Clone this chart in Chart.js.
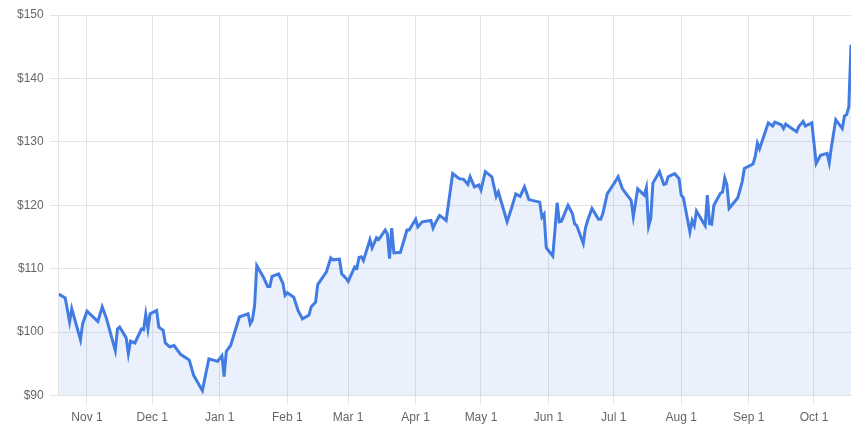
<!DOCTYPE html>
<html>
<head>
<meta charset="utf-8">
<script src="https://cdn.jsdelivr.net/npm/chart.js@4.4.1/dist/chart.umd.min.js"></script>
<style>
  html, body { margin: 0; padding: 0; background: #fff; }
  #wrap { width: 865px; height: 439px; position: relative; }
</style>
</head>
<body>
<div id="wrap"><canvas id="c"></canvas></div>
<script>
const dates = [
  "2022-10-19","2022-10-22","2022-10-24","2022-10-25","2022-10-29","2022-10-30",
  "2022-11-01","2022-11-06","2022-11-08","2022-11-10","2022-11-14","2022-11-15","2022-11-16",
  "2022-11-19","2022-11-20","2022-11-21","2022-11-23","2022-11-26","2022-11-27","2022-11-28",
  "2022-11-29","2022-11-30",
  "2022-12-03","2022-12-04","2022-12-06","2022-12-07","2022-12-09","2022-12-11","2022-12-14",
  "2022-12-18","2022-12-20","2022-12-24","2022-12-27","2022-12-31",
  "2023-01-02","2023-01-03","2023-01-04","2023-01-06","2023-01-10","2023-01-14","2023-01-15",
  "2023-01-16","2023-01-17","2023-01-18","2023-01-21","2023-01-23","2023-01-24","2023-01-25",
  "2023-01-28","2023-01-30","2023-01-31",
  "2023-02-01","2023-02-04","2023-02-06","2023-02-08","2023-02-11","2023-02-12","2023-02-14",
  "2023-02-15","2023-02-19","2023-02-21","2023-02-22","2023-02-25","2023-02-26","2023-02-28",
  "2023-03-01","2023-03-04","2023-03-05","2023-03-06","2023-03-07","2023-03-08","2023-03-11",
  "2023-03-12","2023-03-14","2023-03-15","2023-03-18","2023-03-19","2023-03-20","2023-03-21",
  "2023-03-22","2023-03-25","2023-03-28","2023-03-29",
  "2023-04-01","2023-04-02","2023-04-04","2023-04-08","2023-04-09","2023-04-10","2023-04-12",
  "2023-04-14","2023-04-15","2023-04-18","2023-04-21","2023-04-23","2023-04-25","2023-04-26",
  "2023-04-28","2023-04-30",
  "2023-05-01","2023-05-03","2023-05-06","2023-05-08","2023-05-09","2023-05-13","2023-05-15",
  "2023-05-17","2023-05-19","2023-05-21","2023-05-23","2023-05-28","2023-05-29","2023-05-30",
  "2023-05-31",
  "2023-06-03","2023-06-05","2023-06-06","2023-06-07","2023-06-10","2023-06-12","2023-06-13",
  "2023-06-14","2023-06-17","2023-06-18","2023-06-19","2023-06-21","2023-06-24","2023-06-25",
  "2023-06-26","2023-06-28",
  "2023-07-02","2023-07-03","2023-07-05","2023-07-09","2023-07-10","2023-07-12","2023-07-15",
  "2023-07-16","2023-07-17","2023-07-18","2023-07-19","2023-07-22","2023-07-24","2023-07-25",
  "2023-07-26","2023-07-29","2023-07-31",
  "2023-08-01","2023-08-02","2023-08-05","2023-08-06","2023-08-07","2023-08-08","2023-08-12",
  "2023-08-13","2023-08-14","2023-08-15","2023-08-16","2023-08-19","2023-08-20","2023-08-21",
  "2023-08-22","2023-08-23","2023-08-27","2023-08-29","2023-08-30",
  "2023-09-03","2023-09-04","2023-09-05","2023-09-06","2023-09-10","2023-09-12","2023-09-13",
  "2023-09-16","2023-09-17","2023-09-18","2023-09-20","2023-09-23","2023-09-24","2023-09-26",
  "2023-09-27","2023-09-30",
  "2023-10-02","2023-10-04","2023-10-07","2023-10-08","2023-10-09","2023-10-11","2023-10-14",
  "2023-10-15","2023-10-16","2023-10-17","2023-10-18"
];

const prices = [
  106.0,105.4,101.6,103.7,98.8,101.3,
  103.3,101.7,104.0,102.1,97.1,100.5,100.8,
  99.1,96.6,98.6,98.3,100.5,100.4,102.8,
  100.5,102.9,
  103.4,100.8,100.3,98.3,97.7,97.9,96.5,
  95.6,93.2,90.8,95.8,95.4,
  96.3,93.0,97.0,97.9,102.4,102.9,101.3,
  101.9,104.2,110.5,108.7,107.2,107.2,108.8,
  109.2,107.7,105.8,
  106.2,105.5,103.4,102.1,102.7,104.0,104.7,
  107.5,109.5,111.7,111.4,111.5,109.2,108.5,
  108.0,110.3,110.1,111.8,111.9,111.3,114.6,
  113.3,114.9,114.6,116.1,115.5,111.6,116.4,
  112.5,112.6,116.1,116.1,
  117.8,116.6,117.4,117.6,116.4,117.2,118.4,
  117.9,117.6,125.0,124.2,124.1,123.3,124.5,
  122.9,123.2,
  122.4,125.3,124.5,121.4,122.1,117.4,119.5,
  121.8,121.4,122.9,120.9,120.5,118.1,118.6,
  113.3,
  112.0,120.4,117.4,117.5,120.0,118.7,117.1,
  116.8,114.0,116.4,117.6,119.5,117.8,117.8,
  118.7,121.8,
  123.9,124.5,122.6,120.8,118.2,122.6,121.6,
  122.8,116.7,117.9,123.5,125.3,123.3,123.4,
  124.5,125.0,124.2,
  121.6,121.2,115.8,117.6,116.8,119.1,116.8,
  121.6,117.1,117.0,120.0,121.9,122.1,124.3,
  123.2,119.5,121.2,123.7,125.8,
  126.5,127.7,129.8,128.9,133.0,132.5,133.1,
  132.7,132.1,132.8,132.3,131.6,132.4,133.2,
  132.5,133.0,
  126.6,127.9,128.2,126.7,129.2,133.5,132.1,
  134.1,134.3,135.5,145.3
];

const tickDates = ["2022-11-01","2022-12-01","2023-01-01","2023-02-01","2023-03-01","2023-04-01",
  "2023-05-01","2023-06-01","2023-07-01","2023-08-01","2023-09-01","2023-10-01"];
const tickLabels = ["Nov 1","Dec 1","Jan 1","Feb 1","Mar 1","Apr 1",
  "May 1","Jun 1","Jul 1","Aug 1","Sep 1","Oct 1"];
const yTicks = [90,100,110,120,130,140,150];

function dayIndex(s) {
  const [y, m, d] = s.split("-").map(Number);
  const [y0, m0, d0] = dates[0].split("-").map(Number);
  return Math.round((Date.UTC(y, m - 1, d) - Date.UTC(y0, m0 - 1, d0)) / 86400000);
}

const points = dates.map((d, i) => ({ x: dayIndex(d), y: prices[i] }));
const tickValues = tickDates.map(dayIndex);

const lineColor = "rgb(66,124,227)";
const fillColor = "rgba(66,124,227,0.11)";
const textColor = "#666";
const gridColor = "#e4e4e4";

new Chart(document.getElementById("c"), {
  type: "line",
  data: {
    datasets: [{
      data: points,
      borderColor: lineColor,
      backgroundColor: fillColor,
      borderWidth: 3,
      pointRadius: 0,
      tension: 0,
      fill: "start"
    }]
  },
  options: {
    responsive: true,
    maintainAspectRatio: false,
    animation: false,
    layout: { padding: { left: 11, right: 14, top: 15, bottom: 8 } },
    plugins: { legend: { display: false }, tooltip: { enabled: false } },
    scales: {
      x: {
        type: "linear",
        min: dayIndex(dates[0]),
        max: dayIndex(dates[dates.length - 1]),
        afterBuildTicks: (axis) => { axis.ticks = tickValues.map(v => ({ value: v })); },
        ticks: {
          autoSkip: false,
          maxRotation: 0,
          color: textColor,
          font: { family: "'Liberation Sans', Arial, sans-serif", size: 12 },
          padding: 6,
          callback: (value) => {
            const i = tickValues.indexOf(value);
            return i >= 0 ? tickLabels[i] : "";
          }
        },
        grid: { color: gridColor, tickLength: 9 },
        border: { color: gridColor }
      },
      y: {
        min: yTicks[0],
        max: yTicks[yTicks.length - 1],
        afterBuildTicks: (axis) => { axis.ticks = yTicks.map(v => ({ value: v })); },
        ticks: {
          color: textColor,
          font: { family: "'Liberation Sans', Arial, sans-serif", size: 12 },
          padding: 6,
          callback: (v) => "$" + v
        },
        grid: { color: gridColor, tickLength: 9 },
        border: { color: gridColor }
      }
    }
  }
});
</script>
</body>
</html>
